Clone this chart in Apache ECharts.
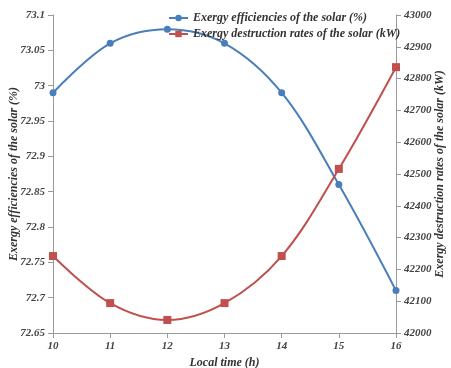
<!DOCTYPE html>
<html><head><meta charset="utf-8">
<script src="https://cdn.jsdelivr.net/npm/echarts@6/dist/echarts.min.js"></script>
<style>html,body{margin:0;padding:0;background:#fff}#c{width:451px;height:368px}</style>
</head><body><div id="c"></div>
<script>
const categories = ['10','11','12','13','14','15','16'];
const efficiency = [72.99, 73.06, 73.08, 73.06, 72.99, 72.86, 72.71];
const destruction = [42242, 42094, 42041, 42094, 42242, 42516, 42836];
const effName = 'Exergy efficiencies of the solar (%)';
const desName = 'Exergy destruction rates of the solar (kW)';
const xTitle = 'Local time (h)';

const font = '"Liberation Serif", "DejaVu Serif", serif';
const lbl = {fontFamily: font, fontStyle: 'italic', fontWeight: 'bold', fontSize: 11, color: '#444'};
const ttl = {fontFamily: font, fontStyle: 'italic', fontWeight: 'bold', fontSize: 12, color: '#333'};
const axLine = {show: true, lineStyle: {color: '#9a9a9a', width: 1}};
const chart = echarts.init(document.getElementById('c'));
chart.setOption({
  animation: false,
  backgroundColor: '#fff',
  grid: {left: 53, right: 55, top: 15, bottom: 35, containLabel: false, outerBoundsMode: 'none'},
  legend: {
    orient: 'vertical', left: 163, top: 7, itemGap: 4, itemWidth: 19, itemHeight: 8,
    textStyle: {fontFamily: font, fontStyle: 'italic', fontWeight: 'bold', fontSize: 12, color: '#333'},
    data: [effName, desName]
  },
  xAxis: {
    type: 'category', data: categories, boundaryGap: false,
    axisLine: axLine, axisTick: {show: true, alignWithLabel: true, lineStyle: {color: '#9a9a9a'}},
    axisLabel: Object.assign({margin: 8}, lbl),
    name: xTitle, nameLocation: 'middle', nameGap: 24, nameTextStyle: ttl
  },
  yAxis: [{
    type: 'value', min: 72.65, max: 73.1, interval: 0.05,
    axisLine: axLine, axisTick: {show: true, lineStyle: {color: '#9a9a9a'}}, splitLine: {show: false},
    axisLabel: Object.assign({margin: 8, formatter: v => String(+v.toFixed(2))}, lbl),
    name: effName, nameLocation: 'middle', nameGap: 33, nameRotate: 90, nameMoveOverlap: false, nameTextStyle: ttl
  }, {
    type: 'value', min: 42000, max: 43000, interval: 100, position: 'right',
    axisLine: axLine, axisTick: {show: true, lineStyle: {color: '#9a9a9a'}}, splitLine: {show: false},
    axisLabel: Object.assign({margin: 8, formatter: v => String(Math.round(v))}, lbl),
    name: desName, nameLocation: 'middle', nameGap: 38, nameRotate: 90, nameMoveOverlap: false, nameTextStyle: ttl
  }],
  series: [{
    name: effName, type: 'line', yAxisIndex: 0, data: efficiency, smooth: 0.35,
    symbol: 'circle', symbolSize: 7, color: '#4a7ebb',
    lineStyle: {width: 2, color: '#4a7ebb'}, itemStyle: {color: '#4a7ebb'}
  }, {
    name: desName, type: 'line', yAxisIndex: 1, data: destruction, smooth: 0.35,
    symbol: 'rect', symbolSize: 8, color: '#c0504d',
    lineStyle: {width: 2, color: '#c0504d'}, itemStyle: {color: '#c0504d'}
  }]
});
</script></body></html>
